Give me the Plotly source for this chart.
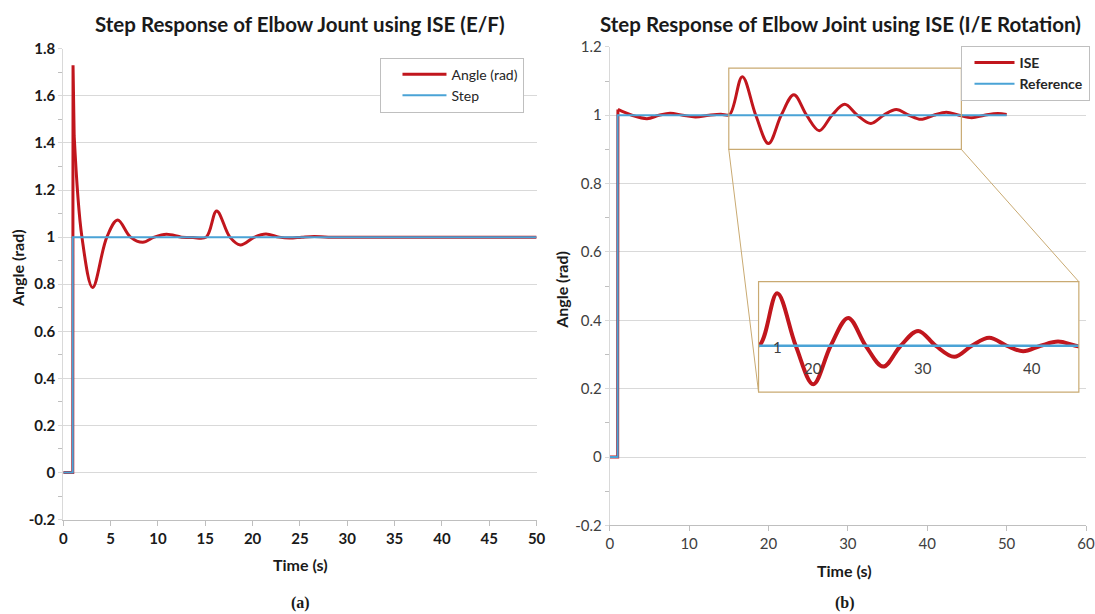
import plotly.graph_objects as go

# ---------------- data ----------------
# (a) Elbow joint, E/F : time (s) and angle (rad)
EF_TIME = [0, 1.0, 1.03, 1.15, 1.97, 3.1, 4.6, 5.74, 7.1, 8.4, 9.6, 10.9, 12.5, 13.7,
           15.1, 16.2, 17.6, 18.7, 20.2, 21.4, 22.8, 23.9, 25.2, 26.5, 28.0, 35.0, 42.0, 50.0]
EF_ANGLE = [0, 0, 1.73, 1.43, 1.0, 0.786, 1.0, 1.073, 1.0, 0.978, 1.0, 1.012, 1.0, 0.998,
            1.0, 1.111, 1.0, 0.967, 1.0, 1.013, 1.0, 0.996, 1.0, 1.003, 1.0, 1.0, 1.0, 1.0]
EF_STEP_TIME = [0, 1.0, 1.0, 50.0]
EF_STEP = [0, 0, 1, 1]
EF_JUMP_POINTS = 4          # leading samples of the step jump (drawn straight)

# (b) Elbow joint, I/E rotation : time (s) and angle (rad)
IE_TIME = [0, 1.0, 1.03, 2.8, 4.7, 6.2, 7.6, 9.2, 10.8, 12.5, 14.0, 15.1, 16.7, 18.4,
           20.0, 21.6, 23.2, 24.8, 26.4, 28.0, 29.6, 31.2, 32.9, 34.5, 36.1, 37.7,
           39.2, 40.8, 42.4, 44.0, 45.6, 47.2, 48.9, 50.0]
IE_ISE = [0, 0, 1.017, 1.0, 0.990, 1.0, 1.006, 1.0, 0.995, 1.0, 1.003, 1.002, 1.113, 1.0,
          0.917, 1.0, 1.060, 1.0, 0.955, 1.0, 1.032, 1.0, 0.976, 1.0, 1.017, 1.0,
          0.988, 1.0, 1.009, 1.0, 0.993, 1.0, 1.005, 1.002]
IE_REF_TIME = [0, 1.0, 1.0, 50.0]
IE_REF = [0, 0, 1, 1]
IE_JUMP_POINTS = 3

# axes / ticks
LEFT_X_TICKS = [0, 5, 10, 15, 20, 25, 30, 35, 40, 45, 50]
LEFT_Y_TICKS = [-0.2, 0, 0.2, 0.4, 0.6, 0.8, 1, 1.2, 1.4, 1.6, 1.8]
RIGHT_X_TICKS = [0, 10, 20, 30, 40, 50, 60]
RIGHT_Y_TICKS = [-0.2, 0, 0.2, 0.4, 0.6, 0.8, 1, 1.2]

# zoom window (source region in chart b) and where the magnified inset sits
ZOOM_X = [15.0, 44.3]
ZOOM_Y = [0.9, 1.138]
INSET_X = [18.75, 59.1]
INSET_Y = [0.19, 0.513]
INSET_X_LABELS = [20, 30, 40]
INSET_X_LABEL_Y = 0.952
INSET_Y_LABEL = "1"
INSET_Y_LABEL_POS = (16.7, 0.998)

# ---------------- styling ----------------
W, H = 1095, 614
RED = "#C1161D"
BLUE = "#4AA3D6"
TAN = "#C9AA72"
GRID = "#D9D9D9"
AXC = "#BFBFBF"
SANS = "Lato"
SERIF = "Liberation Serif"
DARK = "#1a1a1a"


def fx(p):
    return p / W


def fy(p):
    return 1 - p / H


def fmt(v):
    return f"{v:g}"


def mids(vals):
    return [(a + b) / 2 for a, b in zip(vals[:-1], vals[1:])]


L_XDOM = [fx(60), fx(539)]
L_YDOM = [fy(525), fy(40)]
R_XDOM = [fx(613), fx(1095)]
R_YDOM = [fy(531), fy(38)]
R_XR = [RIGHT_X_TICKS[0], RIGHT_X_TICKS[-1]]
R_YR = [RIGHT_Y_TICKS[0], RIGHT_Y_TICKS[-1]]


def map_dom(v, rng, dom):
    return dom[0] + (v - rng[0]) / (rng[1] - rng[0]) * (dom[1] - dom[0])


I_XDOM = [map_dom(v, R_XR, R_XDOM) for v in INSET_X]
I_YDOM = [map_dom(v, R_YR, R_YDOM) for v in INSET_Y]

fig = go.Figure()

# ----- chart (a) -----
fig.add_trace(go.Scatter(x=EF_TIME[:EF_JUMP_POINTS], y=EF_ANGLE[:EF_JUMP_POINTS],
                         mode="lines", line=dict(color=RED, width=3),
                         showlegend=False, hoverinfo="skip", xaxis="x", yaxis="y"))
fig.add_trace(go.Scatter(x=EF_TIME[EF_JUMP_POINTS - 1:], y=EF_ANGLE[EF_JUMP_POINTS - 1:],
                         mode="lines", line=dict(color=RED, width=3, shape="spline"),
                         name="Angle (rad)", legend="legend", hoverinfo="skip",
                         xaxis="x", yaxis="y"))
fig.add_trace(go.Scatter(x=EF_STEP_TIME, y=EF_STEP, mode="lines",
                         line=dict(color=BLUE, width=2), name="Step", legend="legend",
                         hoverinfo="skip", xaxis="x", yaxis="y"))

# ----- chart (b) -----
fig.add_trace(go.Scatter(x=IE_TIME[:IE_JUMP_POINTS], y=IE_ISE[:IE_JUMP_POINTS],
                         mode="lines", line=dict(color=RED, width=3),
                         showlegend=False, hoverinfo="skip", xaxis="x2", yaxis="y2"))
fig.add_trace(go.Scatter(x=IE_TIME[IE_JUMP_POINTS - 1:], y=IE_ISE[IE_JUMP_POINTS - 1:],
                         mode="lines", line=dict(color=RED, width=3, shape="spline"),
                         name="ISE", legend="legend2", hoverinfo="skip",
                         xaxis="x2", yaxis="y2"))
fig.add_trace(go.Scatter(x=IE_REF_TIME, y=IE_REF, mode="lines",
                         line=dict(color=BLUE, width=2), name="Reference",
                         legend="legend2", hoverinfo="skip", xaxis="x2", yaxis="y2"))

# ----- inset (magnified) -----
fig.add_trace(go.Scatter(x=IE_TIME[IE_JUMP_POINTS - 1:], y=IE_ISE[IE_JUMP_POINTS - 1:],
                         mode="lines", line=dict(color=RED, width=4, shape="spline"),
                         showlegend=False, hoverinfo="skip", xaxis="x3", yaxis="y3"))
fig.add_trace(go.Scatter(x=IE_REF_TIME, y=IE_REF, mode="lines",
                         line=dict(color=BLUE, width=2.5), showlegend=False,
                         hoverinfo="skip", xaxis="x3", yaxis="y3"))

tick_font_bold = dict(family=SANS, size=15, color=DARK, weight="bold")
tick_font_reg = dict(family=SANS, size=15, color="#404040")

common_x = dict(showgrid=False, zeroline=False, showline=True, linecolor=AXC, linewidth=1,
                ticks="outside", ticklen=5, tickcolor=AXC, mirror=False)
common_y = dict(showgrid=True, gridcolor=GRID, gridwidth=1, zeroline=False, showline=True,
                linecolor=GRID, linewidth=1, ticks="outside", ticklen=4, tickcolor=GRID)

fig.update_layout(
    width=W, height=H, margin=dict(l=0, r=0, t=0, b=0),
    paper_bgcolor="white", plot_bgcolor="white",
    xaxis=dict(domain=L_XDOM, range=[LEFT_X_TICKS[0], LEFT_X_TICKS[-1]], anchor="y",
               tickmode="array", tickvals=LEFT_X_TICKS,
               ticktext=[fmt(v) for v in LEFT_X_TICKS], tickfont=tick_font_bold,
               **common_x),
    yaxis=dict(domain=L_YDOM, range=[LEFT_Y_TICKS[0], LEFT_Y_TICKS[-1]], anchor="x",
               tickmode="array", tickvals=LEFT_Y_TICKS,
               ticktext=[fmt(v) for v in LEFT_Y_TICKS], tickfont=tick_font_bold,
               minor=dict(tickmode="array", tickvals=mids(LEFT_Y_TICKS), ticks="outside",
                          ticklen=4, tickcolor=AXC, showgrid=False),
               **common_y),
    xaxis2=dict(domain=R_XDOM, range=R_XR, anchor="y2",
                tickmode="array", tickvals=RIGHT_X_TICKS,
                ticktext=[fmt(v) for v in RIGHT_X_TICKS], tickfont=tick_font_reg,
                ticklabeloverflow="allow", **common_x),
    yaxis2=dict(domain=R_YDOM, range=R_YR, anchor="x2",
                tickmode="array", tickvals=RIGHT_Y_TICKS,
                ticktext=[fmt(v) for v in RIGHT_Y_TICKS], tickfont=tick_font_reg,
                minor=dict(tickmode="array", tickvals=mids(RIGHT_Y_TICKS), ticks="outside",
                           ticklen=4, tickcolor=AXC, showgrid=False),
                **common_y),
    xaxis3=dict(domain=I_XDOM, range=ZOOM_X, anchor="y3", visible=False),
    yaxis3=dict(domain=I_YDOM, range=ZOOM_Y, anchor="x3", visible=False),
    legend=dict(x=fx(381), y=fy(49), xanchor="left", yanchor="top",
                bgcolor="white", bordercolor=AXC, borderwidth=1,
                font=dict(family=SANS, size=14, color="#262626"),
                indentation=16, itemwidth=44, tracegroupgap=4),
    legend2=dict(x=fx(968), y=fy(37), xanchor="left", yanchor="top",
                 bgcolor="white", bordercolor=AXC, borderwidth=1,
                 font=dict(family=SANS, size=14, color="#262626", weight="bold"),
                 indentation=8, itemwidth=40, tracegroupgap=4),
)

# ----- shapes: zoom window, inset frame, connectors -----
fig.add_shape(type="rect", xref="x2", yref="y2", x0=INSET_X[0], x1=INSET_X[1],
              y0=INSET_Y[0], y1=INSET_Y[1], fillcolor="white", line=dict(width=0),
              layer="between")
fig.add_shape(type="rect", xref="x2", yref="y2", x0=INSET_X[0], x1=INSET_X[1],
              y0=INSET_Y[0], y1=INSET_Y[1], line=dict(color=TAN, width=1.2))
fig.add_shape(type="rect", xref="x2", yref="y2", x0=ZOOM_X[0], x1=ZOOM_X[1],
              y0=ZOOM_Y[0], y1=ZOOM_Y[1], line=dict(color=TAN, width=1.2))
fig.add_shape(type="line", xref="x2", yref="y2", x0=ZOOM_X[0], y0=ZOOM_Y[0],
              x1=INSET_X[0], y1=INSET_Y[0], line=dict(color=TAN, width=1))
fig.add_shape(type="line", xref="x2", yref="y2", x0=ZOOM_X[1], y0=ZOOM_Y[0],
              x1=INSET_X[1], y1=INSET_Y[1], line=dict(color=TAN, width=1))

# ----- text -----
ann = []
ann.append(dict(text="Step Response of Elbow Jount using ISE (E/F)", x=fx(300), y=fy(14),
                font=dict(family=SANS, size=20.5, color=DARK, weight="bold")))
ann.append(dict(text="Step Response of Elbow Joint using ISE (I/E Rotation)", x=fx(847),
                y=fy(14), font=dict(family=SANS, size=20.5, color=DARK, weight="bold")))
ann.append(dict(text="Angle (rad)", x=fx(13), y=fy(266), textangle=-90,
                font=dict(family=SANS, size=16, color=DARK, weight="bold")))
ann.append(dict(text="Angle (rad)", x=fx(564), y=fy(288), textangle=-90,
                font=dict(family=SANS, size=16, color=DARK, weight="bold")))
ann.append(dict(text="Time (s)", x=fx(300), y=fy(571),
                font=dict(family=SANS, size=16, color=DARK, weight="bold")))
ann.append(dict(text="Time (s)", x=fx(851), y=fy(577),
                font=dict(family=SANS, size=16, color=DARK, weight="bold")))
ann.append(dict(text="(a)", x=fx(300), y=fy(611),
                font=dict(family=SERIF, size=16, color=DARK, weight="bold")))
ann.append(dict(text="(b)", x=fx(851), y=fy(611),
                font=dict(family=SERIF, size=16, color=DARK, weight="bold")))
for a in ann:
    a.update(xref="paper", yref="paper", showarrow=False, xanchor="center", yanchor="middle")
    fig.add_annotation(**a)

for v in INSET_X_LABELS:
    fig.add_annotation(text=fmt(v), x=v, y=INSET_X_LABEL_Y, xref="x3", yref="y3",
                       showarrow=False, font=dict(family=SANS, size=15, color="#404040"))
fig.add_annotation(text=INSET_Y_LABEL, x=INSET_Y_LABEL_POS[0], y=INSET_Y_LABEL_POS[1],
                   xref="x3", yref="y3", showarrow=False,
                   font=dict(family=SANS, size=15, color="#404040"))

fig.write_html("out.html")
